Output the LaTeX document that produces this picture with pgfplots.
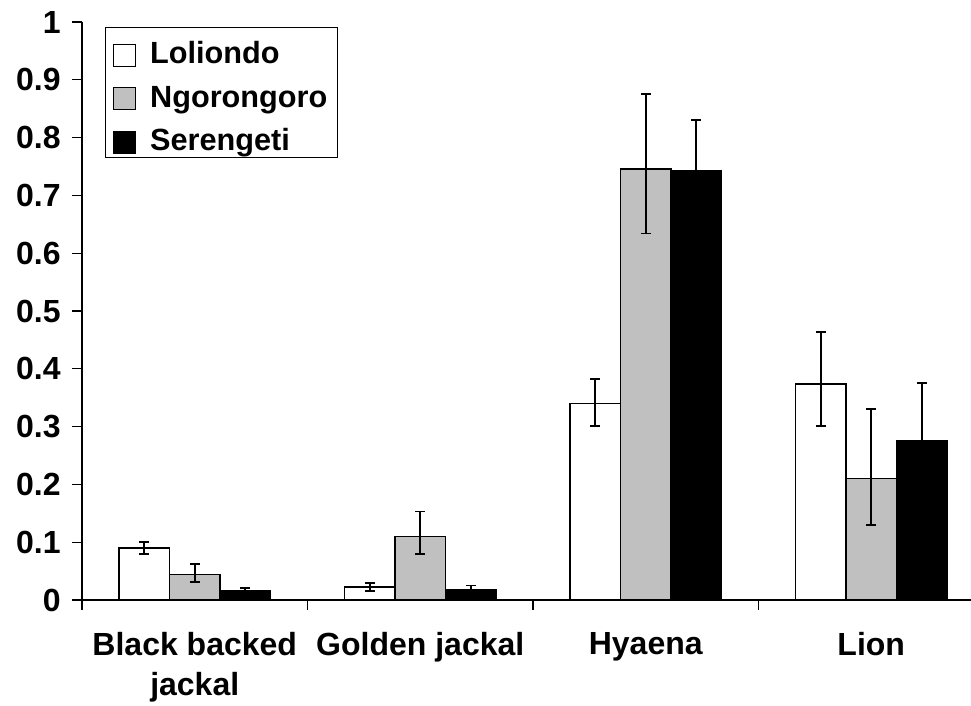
\documentclass[border=0pt]{standalone}
\usepackage{fontspec}
\setmainfont{Liberation Sans}
\usepackage{pgfplots}
\usepackage{pgfplotstable}
\pgfplotsset{compat=1.18}
\definecolor{barGray}{HTML}{C0C0C0}

% x = category, y = value, ep/em = upper/lower error
\pgfplotstableread{
x y ep em
0 0.090 0.010 0.010
1 0.022 0.007 0.006
2 0.340 0.042 0.039
3 0.374 0.090 0.073
}\loliondo
\pgfplotstableread{
x y ep em
0 0.044 0.019 0.013
1 0.110 0.043 0.031
2 0.746 0.130 0.112
3 0.210 0.121 0.080
}\ngorongoro
\pgfplotstableread{
x y ep em
0 0.015 0.006 0.006
1 0.018 0.007 0.007
2 0.743 0.088 0.088
3 0.276 0.100 0.100
}\serengeti

\pgfplotsset{
  sqleg/.style={legend image code/.code={\draw[##1,line width=1pt] (0pt,-12.75pt) rectangle (16.5pt,3.75pt);}},
  errs/.style={error bars/.cd, y dir=both, y explicit,
    error bar style={line width=1.4pt, black},
    error mark options={rotate=90, line width=1.4pt, black, mark size=3.7pt}},
}
\newcommand\ls{\rule[-6.7pt]{0pt}{29.75pt}}

\begin{document}
\begin{tikzpicture}
\useasboundingbox (-61.5pt,-79.5pt) rectangle (666.75pt,450pt);
\begin{axis}[
  scale only axis, width=676.5pt, height=433.5pt,
  at={(0pt,0pt)}, anchor=south west,
  xmin=-0.5, xmax=3.5, ymin=0, ymax=1,
  axis x line*=bottom, axis y line*=left,
  axis line style={line width=0.8pt, black},
  ybar=0pt, bar width=37.9pt,
  tick align=outside, major tick length=7.5pt,
  tick style={black, line width=0.8pt},
  xtick={-0.5,0.5,1.5,2.5}, xticklabels={},
  extra x ticks={0,1,2,3},
  extra x tick labels={{Black backed\\jackal},{Golden jackal},{Hyaena},{Lion}},
  extra x tick style={major tick length=0pt,
    tick label style={align=center, yshift=-21pt}},
  ytick={0,0.1,0.2,0.3,0.4,0.5,0.6,0.7,0.8,0.9,1},
  yticklabels={0,0.1,0.2,0.3,0.4,0.5,0.6,0.7,0.8,0.9,1},
  /pgf/number format/assume math mode=true,
  ticklabel style={font=\fontsize{24}{30}\selectfont\bfseries},
  yticklabel style={xshift=-5pt},
  legend cell align=left,
  legend style={at={(axis description cs:0.0255,0.991)}, anchor=north west,
    draw=black, line width=0.8pt, inner xsep=5.5pt, inner ysep=2pt, row sep=4pt,
    font=\fontsize{23}{28}\selectfont\bfseries,
    /tikz/every odd column/.append style={column sep=8.5pt}},
]
\addplot[fill=white, draw=black, line width=1.3pt, sqleg, errs]
  table[x=x, y=y, y error plus=ep, y error minus=em] {\loliondo};
\addlegendentry{\ls Loliondo}
\addplot[fill=barGray, draw=black, line width=1.3pt, sqleg, errs]
  table[x=x, y=y, y error plus=ep, y error minus=em] {\ngorongoro};
\addlegendentry{\ls Ngorongoro}
\addplot[fill=black, draw=black, line width=1.3pt, sqleg, errs]
  table[x=x, y=y, y error plus=ep, y error minus=em] {\serengeti};
\addlegendentry{\rule[-10.2pt]{0pt}{33.25pt}Serengeti}
\end{axis}
\end{tikzpicture}
\end{document}
